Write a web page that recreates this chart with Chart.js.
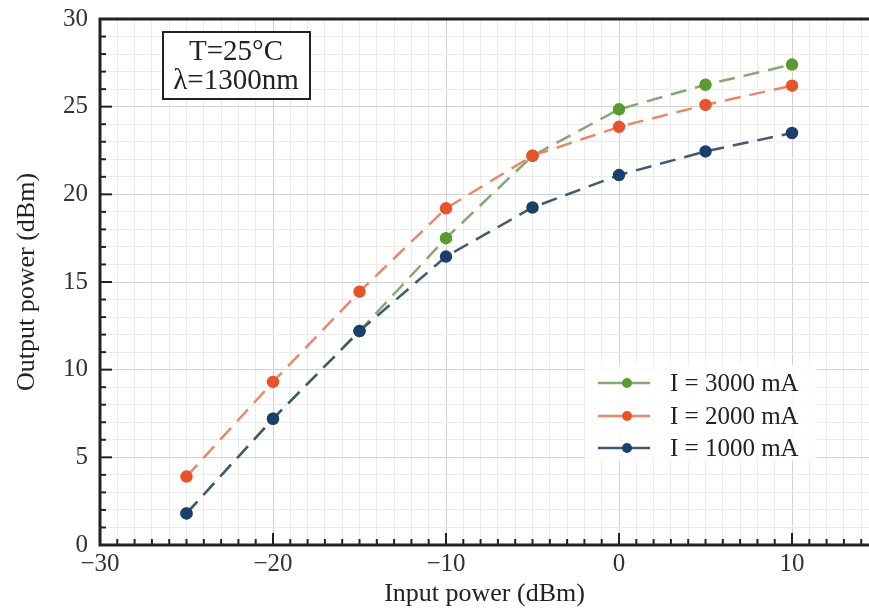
<!DOCTYPE html>
<html>
<head>
<meta charset="utf-8">
<script src="https://cdn.jsdelivr.net/npm/chart.js@4/dist/chart.umd.min.js"></script>
<style>
  html, body { margin: 0; padding: 0; background: #fff; }
  #wrap { width: 869px; height: 616px; }
</style>
</head>
<body>
<div id="wrap"><canvas id="myChart" width="869" height="616"></canvas></div>
<script>
// data
const inputPower = [-25, -20, -15, -10, -5, 0, 5, 10];
const out3000 = [1.8, 7.2, 12.2, 17.5, 22.2, 24.85, 26.25, 27.4];
const out2000 = [3.9, 9.3, 14.45, 19.2, 22.2, 23.85, 25.1, 26.2];
const out1000 = [1.8, 7.2, 12.2, 16.45, 19.25, 21.1, 22.45, 23.5];
const seriesLabels = ["I = 3000 mA", "I = 2000 mA", "I = 1000 mA"];
const noteLines = ["T=25°C", "λ=1300nm"];

const serif = "'Liberation Serif', 'DejaVu Serif', serif";

function toPoints(ys) {
    return inputPower.map((x, i) => ({ x: x, y: ys[i] }));
}

function makeSet(label, ys, lineColor, dotColor, order) {
    return {
        label: label,
        data: toPoints(ys),
        borderColor: lineColor,
        backgroundColor: dotColor,
        pointBackgroundColor: dotColor,
        pointBorderColor: dotColor,
        pointRadius: 5,
        borderWidth: 2.5,
        borderDash: [16, 9],
        tension: 0,
        fill: false,
        order: order
    };
}

// inward ticks, frame, note box and legend
const extras = {
    id: "extras",
    afterDatasetsDraw(chart) {
        const ctx = chart.ctx;
        const a = chart.chartArea;
        const xs = chart.scales.x, ys = chart.scales.y;

        ctx.save();
        ctx.strokeStyle = "#222";
        ctx.lineWidth = 2;
        for (let v = -29; v <= 14; v++) {
            const px = xs.getPixelForValue(v);
            const len = v % 10 === 0 ? 12 : 6;
            ctx.beginPath();
            ctx.moveTo(px, a.bottom);
            ctx.lineTo(px, a.bottom - len);
            ctx.stroke();
        }
        for (let v = 1; v < 30; v++) {
            const py = ys.getPixelForValue(v);
            const len = v % 5 === 0 ? 12 : 6;
            ctx.beginPath();
            ctx.moveTo(a.left, py);
            ctx.lineTo(a.left + len, py);
            ctx.stroke();
        }

        // frame: left, bottom, top
        ctx.lineWidth = 3;
        ctx.beginPath();
        ctx.moveTo(a.right, a.top);
        ctx.lineTo(a.left, a.top);
        ctx.lineTo(a.left, a.bottom);
        ctx.lineTo(a.right, a.bottom);
        ctx.stroke();

        // note box
        ctx.fillStyle = "#fff";
        ctx.fillRect(163, 32, 147, 67);
        ctx.lineWidth = 2;
        ctx.strokeRect(163, 32, 147, 67);
        ctx.fillStyle = "#222";
        ctx.font = "29px " + serif;
        ctx.textAlign = "center";
        ctx.textBaseline = "middle";
        ctx.fillText(noteLines[0], 236, 52);
        ctx.fillText(noteLines[1], 236, 81);

        // legend
        ctx.fillStyle = "rgba(255,255,255,0.85)";
        ctx.fillRect(585, 365, 232, 96);
        const rows = [383, 416, 448];
        chart.data.datasets.forEach((ds, i) => {
            const y = rows[i];
            ctx.strokeStyle = ds.borderColor;
            ctx.lineWidth = 2.5;
            ctx.beginPath();
            ctx.moveTo(598, y);
            ctx.lineTo(650, y);
            ctx.stroke();
            ctx.fillStyle = ds.pointBackgroundColor;
            ctx.beginPath();
            ctx.arc(627, y, 5, 0, Math.PI * 2);
            ctx.fill();
            ctx.fillStyle = "#222";
            ctx.font = "25px " + serif;
            ctx.textAlign = "left";
            ctx.fillText(ds.label, 670, y + 1);
        });
        ctx.restore();
    }
};

const config = {
    type: "line",
    data: {
        datasets: [
            makeSet(seriesLabels[0], out3000, "#86a874", "#5a9a2e", 3),
            makeSet(seriesLabels[1], out2000, "#e48a6c", "#e8532a", 2),
            makeSet(seriesLabels[2], out1000, "#3e5a74", "#1c3e6a", 1)
        ]
    },
    options: {
        responsive: false,
        animation: false,
        layout: { autoPadding: false, padding: { top: 19, right: 0, left: 0, bottom: 0 } },
        plugins: {
            legend: { display: false },
            tooltip: { enabled: false }
        },
        scales: {
            x: {
                type: "linear",
                min: -30,
                max: 14.45,
                afterFit(s) { s.height = 71; s.paddingLeft = 0; s.paddingRight = 0; },
                afterBuildTicks(s) {
                    s.ticks = [];
                    for (let v = -30; v <= 14; v++) s.ticks.push({ value: v });
                },
                ticks: {
                    autoSkip: false,
                    maxRotation: 0,
                    padding: 4,
                    color: "#333",
                    font: { family: serif, size: 25 },
                    callback: v => (v % 10 === 0 ? (v < 0 ? "\u2212" + Math.abs(v) : String(v)) : "")
                },
                grid: {
                    drawTicks: false,
                    color: c => (c.tick && c.tick.value % 10 === 0 ? "#d2d2d2" : "#ececec"),
                    lineWidth: 1
                },
                border: { display: false },
                title: {
                    display: true,
                    text: "Input power (dBm)",
                    color: "#222",
                    font: { family: serif, size: 26 },
                    padding: { top: 0, bottom: 6 }
                }
            },
            y: {
                min: 0,
                max: 30,
                afterFit(s) { s.width = 100; s.paddingTop = 0; s.paddingBottom = 0; },
                afterBuildTicks(s) {
                    s.ticks = [];
                    for (let v = 0; v <= 30; v++) s.ticks.push({ value: v });
                },
                ticks: {
                    autoSkip: false,
                    padding: 12,
                    color: "#333",
                    font: { family: serif, size: 25 },
                    callback: v => (v % 5 === 0 ? String(v) : "")
                },
                grid: {
                    drawTicks: false,
                    color: c => (c.tick && c.tick.value % 5 === 0 ? "#d2d2d2" : "#ececec"),
                    lineWidth: 1
                },
                border: { display: false },
                title: {
                    display: true,
                    text: "Output power (dBm)",
                    color: "#222",
                    font: { family: serif, size: 26 },
                    padding: { top: 12, bottom: 0 }
                }
            }
        }
    },
    plugins: [extras]
};

const ctx = document.getElementById("myChart").getContext("2d");
const myChart = new Chart(ctx, config);
</script>
</body>
</html>
